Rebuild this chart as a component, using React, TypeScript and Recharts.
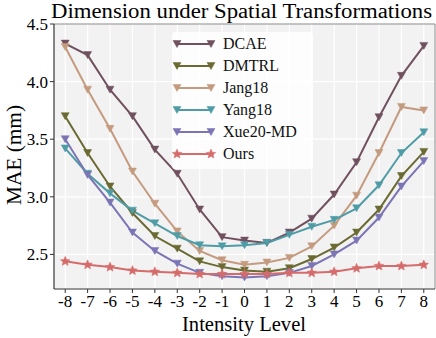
import React from "react";
import {
  LineChart,
  Line,
  XAxis,
  YAxis,
  CartesianGrid,
  ReferenceLine,
  Label,
} from "recharts";

const levels = [-8, -7, -6, -5, -4, -3, -2, -1, 0, 1, 2, 3, 4, 5, 6, 7, 8];
const dcae = [4.33, 4.23, 3.93, 3.7, 3.41, 3.2, 2.89, 2.65, 2.62, 2.6, 2.69, 2.81, 3.02, 3.3, 3.69, 4.05, 4.31];
const dmtrl = [3.7, 3.38, 3.09, 2.86, 2.66, 2.55, 2.44, 2.39, 2.36, 2.35, 2.38, 2.46, 2.56, 2.69, 2.89, 3.18, 3.39];
const jang18 = [4.3, 3.93, 3.59, 3.22, 2.94, 2.7, 2.53, 2.45, 2.41, 2.43, 2.47, 2.57, 2.75, 3.01, 3.38, 3.78, 3.75];
const yang18 = [3.42, 3.2, 3.03, 2.88, 2.77, 2.66, 2.58, 2.57, 2.58, 2.6, 2.67, 2.74, 2.8, 2.9, 3.1, 3.38, 3.56];
const xue20 = [3.5, 3.19, 2.95, 2.69, 2.53, 2.42, 2.34, 2.31, 2.3, 2.31, 2.34, 2.4, 2.5, 2.62, 2.82, 3.09, 3.31];
const ours = [2.44, 2.41, 2.39, 2.36, 2.35, 2.34, 2.33, 2.33, 2.33, 2.33, 2.34, 2.34, 2.35, 2.38, 2.4, 2.4, 2.41];
const yTicks = [2.5, 3.0, 3.5, 4.0, 4.5];

const SERIES = [
  { key: "DCAE", values: dcae, color: "#71505f", marker: "tri" },
  { key: "DMTRL", values: dmtrl, color: "#6b6a32", marker: "tri" },
  { key: "Jang18", values: jang18, color: "#c49b7f", marker: "tri" },
  { key: "Yang18", values: yang18, color: "#4f9ca6", marker: "tri" },
  { key: "Xue20-MD", values: xue20, color: "#7c75b5", marker: "tri" },
  { key: "Ours", values: ours, color: "#d66b6b", marker: "star" },
];

const data = levels.map((x, i) => {
  const row: Record<string, number> = { x };
  SERIES.forEach(s => (row[s.key] = s.values[i]));
  return row;
});

const FONT = '"Liberation Serif", "Times New Roman", serif';

function starPoints(cx: number, cy: number, r: number) {
  const pts: string[] = [];
  for (let i = 0; i < 10; i++) {
    const rad = i % 2 === 0 ? r : r * 0.45;
    const a = -Math.PI / 2 + (i * Math.PI) / 5;
    pts.push(`${cx + rad * Math.cos(a)},${cy + rad * Math.sin(a)}`);
  }
  return pts.join(" ");
}

function Marker({ cx, cy, color, marker }: any) {
  if (cx == null || cy == null) return null;
  if (marker === "star") {
    return <polygon points={starPoints(cx, cy, 5)} fill={color} stroke={color} strokeWidth={0.5} />;
  }
  return (
    <polygon
      points={`${cx - 4},${cy - 3.5} ${cx + 4},${cy - 3.5} ${cx},${cy + 3.5}`}
      fill={color}
      stroke={color}
      strokeWidth={0.5}
    />
  );
}

function LegendBox() {
  return (
    <div
      style={{
        position: "absolute",
        left: 172,
        top: 32,
        width: 141,
        height: 137,
        background: "rgba(255,255,255,0.85)",
        borderRadius: 3,
        fontFamily: FONT,
        fontSize: 16,
        boxSizing: "border-box",
        paddingTop: 1,
      }}
    >
      {SERIES.map(s => (
        <div key={s.key} style={{ height: 22, display: "flex", alignItems: "center" }}>
          <svg width={51} height={22} style={{ flex: "none" }}>
            <line x1={5} y1={11} x2={39} y2={11} stroke={s.color} strokeWidth={2} />
            <Marker cx={5} cy={11} color={s.color} marker={s.marker} />
            <Marker cx={39} cy={11} color={s.color} marker={s.marker} />
          </svg>
          <span style={{ color: "#111" }}>{s.key}</span>
        </div>
      ))}
    </div>
  );
}

export default function App() {
  return (
    <div style={{ position: "absolute", left: 0, top: 0, width: 436, height: 338, background: "#fff" }}>
      <LineChart width={436} height={338} data={data} margin={{ top: 24, right: 1, bottom: 0, left: 0 }}>
        <text
          x={51}
          y={18}
          fontFamily={FONT}
          fontSize={20}
          fill="#000"
          textLength={381}
          lengthAdjust="spacingAndGlyphs"
        >
          Dimension under Spatial Transformations
        </text>
        <CartesianGrid fill="#f2f2f2" stroke="#ffffff" strokeWidth={1.2} />
        <XAxis
          dataKey="x"
          type="number"
          domain={[-8.5, 8.5]}
          ticks={levels}
          interval={0}
          height={49}
          tick={{ fontSize: 17, fill: "#000", fontFamily: FONT }}
          tickSize={4}
          tickLine={{ stroke: "#333" }}
          axisLine={{ stroke: "#333", strokeWidth: 1.2 }}
          tickFormatter={(v: number) => String(v)}
        >
          <Label
            content={() => (
              <text
                x={182}
                y={331}
                fontFamily={FONT}
                fontSize={20.5}
                fill="#000"
                textLength={124}
                lengthAdjust="spacingAndGlyphs"
              >
                Intensity Level
              </text>
            )}
          />
        </XAxis>
        <YAxis
          type="number"
          domain={[2.2, 4.5]}
          ticks={yTicks}
          allowDataOverflow
          width={54}
          tick={{ fontSize: 17, fill: "#000", fontFamily: FONT }}
          tickSize={4}
          tickLine={{ stroke: "#333" }}
          axisLine={{ stroke: "#333", strokeWidth: 1.2 }}
          tickFormatter={(v: number) => v.toFixed(1)}
        >
          <Label
            content={() => (
              <text
                x={20.5}
                y={205}
                transform="rotate(-90 20.5 205)"
                fontFamily={FONT}
                fontSize={20}
                fill="#000"
                textLength={100}
                lengthAdjust="spacingAndGlyphs"
              >
                MAE (mm)
              </text>
            )}
          />
        </YAxis>
        <ReferenceLine y={4.5} stroke="#888" strokeWidth={1} />
        <ReferenceLine x={8.5} stroke="#888" strokeWidth={1} />
        {SERIES.map(s => (
          <Line
            key={s.key}
            dataKey={s.key}
            stroke={s.color}
            strokeWidth={2}
            isAnimationActive={false}
            dot={(p: any) => <Marker key={`${s.key}-${p.index}`} cx={p.cx} cy={p.cy} color={s.color} marker={s.marker} />}
            activeDot={false}
          />
        ))}
      </LineChart>
      <LegendBox />
    </div>
  );
}
